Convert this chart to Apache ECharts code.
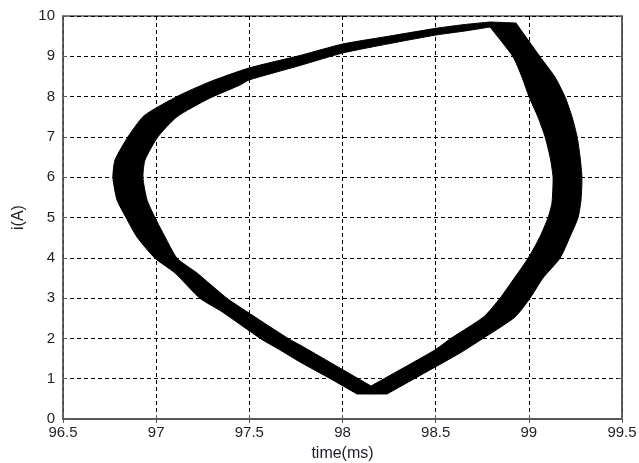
<!DOCTYPE html>
<html>
<head>
<meta charset="utf-8">
<script src="https://cdn.jsdelivr.net/npm/echarts@6/dist/echarts.min.js"></script>
<style>
  html, body { margin: 0; padding: 0; background: #fff; }
  #chart { width: 639px; height: 463px; }
</style>
</head>
<body>
<div id="chart"></div>
<script>
// Axis ranges and tick spacing
const timeMin = 96.5, timeMax = 99.5, timeStep = 0.5;
const currentMin = 0, currentMax = 10, currentStep = 1;

// Outer edge of the overlapping current trajectories (time in ms, current in A)
const outerTime = [
  98.792, 98.931, 99.060, 99.140, 99.194, 99.232, 99.259, 99.275, 99.285, 99.280,
  99.264, 99.221, 99.167, 99.076, 99.006, 98.926, 98.749, 98.631, 98.416, 98.239,
  98.078, 97.933, 97.772, 97.665, 97.563, 97.353, 97.235, 97.101, 96.994, 96.897,
  96.838, 96.790, 96.768, 96.779, 96.849, 96.929, 96.999, 97.128, 97.289, 97.498,
  97.772, 98.001, 98.255, 98.502, 98.657
];
const outerCurrent = [
  9.851, 9.826, 8.990, 8.486, 7.998, 7.494, 7.005, 6.501, 5.998, 5.434,
  4.995, 4.524, 3.988, 3.499, 2.995, 2.531, 1.985, 1.638, 1.079, 0.620,
  0.620, 1.005, 1.414, 1.712, 1.985, 2.663, 2.995, 3.623, 3.988, 4.516,
  5.000, 5.434, 5.988, 6.427, 7.005, 7.501, 7.717, 8.040, 8.370, 8.710,
  9.020, 9.305, 9.504, 9.695, 9.789
];
// Vertices of the outer edge where the trajectory turns sharply
const outerCorners = [0, 1, 19, 20];

// Inner edge of the same band
const innerTime = [
  98.792, 98.915, 98.963, 99.001, 99.049, 99.087, 99.114, 99.130, 99.124, 99.103,
  99.060, 98.996, 98.915, 98.845, 98.759, 98.577, 98.496, 98.153, 97.772, 97.713,
  97.487, 97.380, 97.219, 97.112, 97.047, 96.994, 96.951, 96.929, 96.940, 97.010,
  97.112, 97.278, 97.450, 97.498, 97.772, 98.001, 98.255, 98.502, 98.657
];
const innerCurrent = [
  9.727, 8.990, 8.486, 7.998, 7.494, 7.005, 6.501, 5.998, 5.360, 4.995,
  4.524, 3.988, 3.449, 2.995, 2.538, 1.985, 1.712, 0.819, 1.836, 1.985,
  2.663, 2.995, 3.623, 3.988, 4.524, 4.995, 5.434, 5.988, 6.427, 7.005,
  7.501, 7.940, 8.288, 8.412, 8.772, 9.082, 9.318, 9.529, 9.628
];
const innerCorners = [0, 17];

const labelFont = { color: '#1e1e2a', fontSize: 15, fontFamily: 'Liberation Sans, Arial, sans-serif' };
const frameColor = '#5a5a5a';

// Map an edge to pixels; sharp vertices are doubled so the smoothing keeps them pointed
function edgePixels(api, xs, ys, corners) {
  const pts = [];
  xs.forEach((x, i) => {
    const p = api.coord([x, ys[i]]);
    pts.push(p);
    if (corners.indexOf(i) >= 0) pts.push(p.slice());
  });
  return pts;
}

const chart = echarts.init(document.getElementById('chart'), null, { renderer: 'canvas' });

chart.setOption({
  animation: false,
  backgroundColor: '#fff',
  grid: {
    left: 63, right: 17, top: 16, bottom: 44,
    outerBoundsMode: 'none', containLabel: false,
    show: true, borderColor: frameColor, borderWidth: 1.5, backgroundColor: '#fff'
  },
  xAxis: [
    {
      type: 'value', min: timeMin, max: timeMax, interval: timeStep,
      name: 'time(ms)', nameLocation: 'middle', nameGap: 27,
      nameTextStyle: Object.assign({}, labelFont, { fontSize: 16 }),
      axisLine: { show: true, lineStyle: { color: frameColor, width: 1.5 } },
      axisTick: { show: true, inside: true, length: 4, lineStyle: { color: frameColor } },
      axisLabel: Object.assign({ margin: 6 }, labelFont),
      splitLine: { show: true, lineStyle: { color: '#000', width: 1, type: [4, 3] } }
    },
    {
      type: 'value', position: 'top', min: timeMin, max: timeMax, interval: timeStep,
      axisLine: { show: true, lineStyle: { color: frameColor, width: 1.5 } },
      axisTick: { show: true, inside: true, length: 4, lineStyle: { color: frameColor } },
      axisLabel: { show: false },
      splitLine: { show: false }
    }
  ],
  yAxis: [
    {
      type: 'value', min: currentMin, max: currentMax, interval: currentStep,
      name: 'i(A)', nameLocation: 'middle', nameGap: 36, nameRotate: 90,
      nameTextStyle: Object.assign({}, labelFont, { fontSize: 16 }),
      axisLine: { show: true, lineStyle: { color: frameColor, width: 1.5 } },
      axisTick: { show: true, inside: true, length: 4, lineStyle: { color: frameColor } },
      axisLabel: Object.assign({ margin: 8 }, labelFont),
      splitLine: { show: true, lineStyle: { color: '#000', width: 1, type: [4, 3] } }
    },
    {
      type: 'value', position: 'right', min: currentMin, max: currentMax, interval: currentStep,
      axisLine: { show: true, lineStyle: { color: frameColor, width: 1.5 } },
      axisTick: { show: true, inside: true, length: 4, lineStyle: { color: frameColor } },
      axisLabel: { show: false },
      splitLine: { show: false }
    }
  ],
  series: [
    {
      // The band swept by the repeated cycles: outer edge with the inner edge cut out
      type: 'custom',
      coordinateSystem: 'cartesian2d',
      xAxisIndex: 0, yAxisIndex: 0,
      silent: true,
      data: [[outerTime[0], outerCurrent[0]]],
      renderItem: function (params, api) {
        const outer = edgePixels(api, outerTime, outerCurrent, outerCorners);
        const inner = edgePixels(api, innerTime, innerCurrent, innerCorners).reverse();
        return {
          type: 'compoundPath',
          shape: {
            paths: [
              { type: 'polygon', shape: { points: outer, smooth: 0.2 } },
              { type: 'polygon', shape: { points: inner, smooth: 0.2 } }
            ]
          },
          style: { fill: '#000', stroke: '#000', lineWidth: 1 }
        };
      }
    }
  ]
});
</script>
</body>
</html>
